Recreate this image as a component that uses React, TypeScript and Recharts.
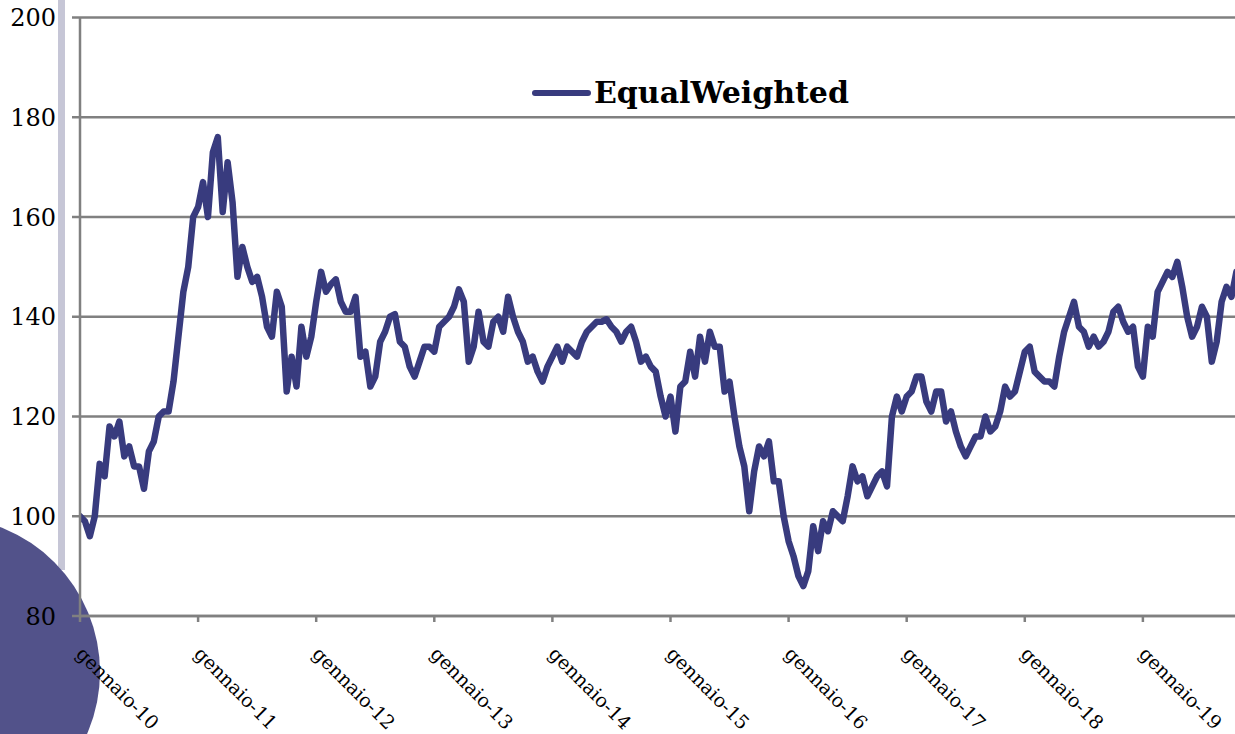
import React from 'react';
import { LineChart, Line, XAxis, YAxis, CartesianGrid, Legend } from 'recharts';

// Category ticks (January of each year) and their labels
const tickYears = [2010, 2011, 2012, 2013, 2014, 2015, 2016, 2017, 2018, 2019];
const tickLabels = [
  'gennaio-10', 'gennaio-11', 'gennaio-12', 'gennaio-13', 'gennaio-14',
  'gennaio-15', 'gennaio-16', 'gennaio-17', 'gennaio-18', 'gennaio-19',
];
const yTicks = [80, 100, 120, 140, 160, 180, 200];

// EqualWeighted index, two readings per month (1st / 15th)
const v2010 = [100, 99, 96, 100, 110.5, 108, 118, 116, 119, 112, 114, 110, 110, 105.5, 113, 115, 120, 121, 121, 127, 136, 145, 150, 160];
const v2011 = [162, 167, 160, 173, 176, 161, 171, 163, 148, 154, 150, 147, 148, 144, 138, 136, 145, 142, 125, 132, 126, 138, 132, 136];
const v2012 = [143, 149, 145, 146.5, 147.5, 143, 141, 141, 144, 132, 133, 126, 128, 135, 137, 140, 140.5, 135, 134, 130, 128, 131, 134, 134];
const v2013 = [133, 138, 139, 140, 142, 145.5, 143, 131, 134, 141, 135, 134, 139, 140, 137, 144, 140, 137, 135, 131, 132, 129, 127, 130];
const v2014 = [132, 134, 131, 134, 133, 132, 135, 137, 138, 139, 139, 139.5, 138, 137, 135, 137, 138, 135, 131, 132, 130, 129, 124, 120];
const v2015 = [124, 117, 126, 127, 133, 128, 136, 131, 137, 134, 134, 125, 127, 120, 114, 110, 101, 109, 114, 112, 115, 107, 107, 100];
const v2016 = [95, 92, 88, 86, 89, 98, 93, 99, 97, 101, 100, 99, 104, 110, 107, 108, 104, 106, 108, 109, 106, 120, 124, 121];
const v2017 = [124, 125, 128, 128, 123, 121, 125, 125, 119, 121, 117, 114, 112, 114, 116, 116, 120, 117, 118, 121, 126, 124, 125, 129];
const v2018 = [133, 134, 129, 128, 127, 127, 126, 132, 137, 140, 143, 138, 137, 134, 136, 134, 135, 137, 141, 142, 139, 137, 138, 130];
const v2019 = [128, 138, 136, 145, 147, 149, 148, 151, 146, 140, 136, 138, 142, 140, 131, 135, 143, 146, 144, 149];

const seriesByYear: [number, number[]][] = [
  [2010, v2010], [2011, v2011], [2012, v2012], [2013, v2013], [2014, v2014],
  [2015, v2015], [2016, v2016], [2017, v2017], [2018, v2018], [2019, v2019],
];

const data = seriesByYear.flatMap(([yr, vals]) =>
  vals.map((v, i) => ({ t: yr + i / 24, value: v }))
);

const LINE_COLOR = '#383b7e';
const GRID = '#808080';
const FONT = '"DejaVu Serif", serif';

const XTick = (props: any) => {
  const { x, y, payload } = props;
  const idx = tickYears.indexOf(payload.value);
  const bx = x - 5;
  const by = y + 31;
  return (
    <text
      x={bx}
      y={by}
      transform={`rotate(45 ${bx} ${by})`}
      textAnchor="start"
      fontFamily={FONT}
      fontSize={19}
      fill="#000"
    >
      {idx >= 0 ? tickLabels[idx] : ''}
    </text>
  );
};

const renderLegend = () => (
  <div style={{ display: 'flex', alignItems: 'center' }}>
    <svg width={62} height={14} style={{ display: 'block' }}>
      <line x1={5} y1={7} x2={58} y2={7} stroke={LINE_COLOR} strokeWidth={6} strokeLinecap="round" />
    </svg>
    <span style={{ fontFamily: FONT, fontWeight: 'bold', fontSize: 30, color: '#000', marginLeft: 2, lineHeight: '34px' }}>
      EqualWeighted
    </span>
  </div>
);

export default function App() {
  return (
    <div style={{ position: 'fixed', left: 0, top: 0, width: 1235, height: 734, background: '#fff', overflow: 'hidden' }}>
      <div style={{ position: 'absolute', left: 58, top: 0, width: 7, height: 570, background: '#c6c6d6' }} />
      <div style={{ position: 'absolute', left: -210, top: 517, width: 310, height: 310, borderRadius: '50%', background: '#52528a' }} />
      <div style={{ position: 'absolute', left: 0, top: 0 }}>
        <LineChart width={1235} height={734} data={data} margin={{ top: 17.5, right: 0, bottom: 0, left: 0 }}>
          <CartesianGrid vertical={false} stroke={GRID} strokeWidth={2.5} />
          <XAxis
            dataKey="t"
            type="number"
            domain={[2010, 2019.78]}
            ticks={tickYears}
            interval={0}
            height={118}
            tickSize={6}
            axisLine={{ stroke: GRID, strokeWidth: 2.5 }}
            tickLine={{ stroke: GRID, strokeWidth: 2.5 }}
            tick={<XTick />}
            allowDataOverflow
          />
          <YAxis
            type="number"
            domain={[80, 200]}
            ticks={yTicks}
            interval={0}
            width={80}
            tickSize={8}
            tickMargin={16}
            axisLine={{ stroke: GRID, strokeWidth: 2.5 }}
            tickLine={{ stroke: GRID, strokeWidth: 2.5 }}
            tick={{ fontFamily: FONT, fontSize: 24, fill: '#000' }}
            allowDataOverflow
          />
          <Legend
            layout="horizontal"
            verticalAlign="middle"
            align="center"
            content={renderLegend}
            wrapperStyle={{ position: 'absolute', top: 76, left: 530, width: 340 }}
          />
          <Line
            type="linear"
            dataKey="value"
            stroke={LINE_COLOR}
            strokeWidth={6.5}
            strokeLinejoin="round"
            strokeLinecap="round"
            dot={false}
            activeDot={false}
            isAnimationActive={false}
          />
        </LineChart>
      </div>
    </div>
  );
}
